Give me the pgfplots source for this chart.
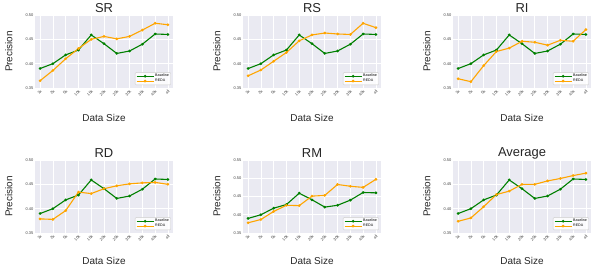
\documentclass[border=0pt]{standalone}
\usepackage{pgfplots}
\pgfplotsset{compat=1.18}
\usepackage{fontspec}
\setmainfont{Liberation Sans}
\definecolor{bgc}{HTML}{EAEAF2}
\definecolor{base}{HTML}{008000}
\definecolor{reda}{HTML}{FFA500}
\definecolor{tickc}{HTML}{404040}

\pgfplotsset{every axis title shift=0pt, panel/.style={
  scale only axis, width=138bp, height=73bp,
  axis background/.style={fill=bgc},
  axis line style={draw=none},
  grid=major, grid style={white, line width=0.7pt},
  major tick length=0pt,
  xmin=-0.4, xmax=10.4,
  xtick={0,...,10},
  xticklabels={1k,2k,5k,10k,15k,20k,25k,30k,35k,40k,all},
  x tick label style={rotate=45, anchor=north east, font=\fontsize{4}{4}\selectfont, text=tickc, inner sep=1pt},
  y tick label style={font=\fontsize{4}{4}\selectfont, text=tickc, inner sep=1.5pt},
  /pgf/number format/assume math mode=true,
  yticklabel style={/pgf/number format/fixed, /pgf/number format/precision=2, /pgf/number format/fixed zerofill},
  ytick={0.35,0.40,0.45,0.50},
  ymin=0.35, ymax=0.50,
  title style={font=\fontsize{13}{13}\selectfont, at={(axis description cs:0.5,1.09)}, anchor=center, yshift=0pt, text=black!85},
  xlabel={Data Size}, ylabel={Precision},
  every axis x label/.style={at={(axis description cs:0.5,-0.41)}, anchor=center, font=\fontsize{10}{10}\selectfont, text=black!85},
  every axis y label/.style={at={(axis description cs:-0.19,0.5)}, rotate=90, anchor=center, font=\fontsize{10}{10}\selectfont, text=black!85},
  legend style={at={(0.985,0.04)}, anchor=south east, font=\fontsize{3.6}{3.6}\selectfont, fill=white, fill opacity=0.85, text opacity=1, draw=black!20, rounded corners=1pt, inner sep=0.8pt, row sep=-1.2pt, nodes={inner sep=1pt}},
  legend cell align=left,
  legend image post style={line width=1.2pt, mark size=0.7pt},
  every axis plot/.append style={line width=1.1pt, mark=*, mark size=0.75pt},
}, lowrow/.style={x label style={at={(axis description cs:0.5,-0.38)}}}}

\pgfplotstableread{
x base sr rs ri rd rm avg
0 0.390 0.365 0.375 0.369 0.379 0.378 0.374
1 0.400 0.386 0.387 0.363 0.378 0.387 0.381
2 0.418 0.410 0.405 0.396 0.396 0.409 0.404
3 0.428 0.431 0.423 0.425 0.434 0.426 0.429
4 0.459 0.450 0.447 0.432 0.431 0.425 0.436
5 0.441 0.456 0.459 0.446 0.441 0.451 0.450
6 0.421 0.451 0.463 0.444 0.447 0.453 0.450
7 0.426 0.456 0.461 0.438 0.451 0.483 0.457
8 0.440 0.469 0.460 0.448 0.453 0.478 0.462
9 0.461 0.483 0.483 0.446 0.454 0.475 0.468
10 0.460 0.480 0.474 0.470 0.450 0.497 0.473
}\data

\begin{document}
\begin{tikzpicture}
\begin{axis}[panel, at={(35bp,178bp)}, anchor=south west, title={SR}]
\addplot[base] table[x=x,y=base]{\data};
\addplot[reda] table[x=x,y=sr]{\data};
\legend{Baseline,REDA}
\end{axis}
\begin{axis}[panel, at={(243bp,178bp)}, anchor=south west, title={RS}]
\addplot[base] table[x=x,y=base]{\data};
\addplot[reda] table[x=x,y=rs]{\data};
\legend{Baseline,REDA}
\end{axis}
\begin{axis}[panel, at={(453bp,178bp)}, anchor=south west, title={RI}]
\addplot[base] table[x=x,y=base]{\data};
\addplot[reda] table[x=x,y=ri]{\data};
\legend{Baseline,REDA}
\end{axis}
\begin{axis}[panel, lowrow, at={(35bp,33bp)}, anchor=south west, title={RD}]
\addplot[base] table[x=x,y=base]{\data};
\addplot[reda] table[x=x,y=rd]{\data};
\legend{Baseline,REDA}
\end{axis}
\begin{axis}[panel, lowrow, at={(243bp,33bp)}, anchor=south west, title={RM}, ymax=0.55, ytick={0.35,0.40,0.45,0.50,0.55}]
\addplot[base] table[x=x,y=base]{\data};
\addplot[reda] table[x=x,y=rm]{\data};
\legend{Baseline,REDA}
\end{axis}
\begin{axis}[panel, lowrow, at={(453bp,33bp)}, anchor=south west, title={Average}]
\addplot[base] table[x=x,y=base]{\data};
\addplot[reda] table[x=x,y=avg]{\data};
\legend{Baseline,REDA}
\end{axis}
\pgfresetboundingbox
\useasboundingbox (0bp,0bp) rectangle (592bp,266bp);
\end{tikzpicture}
\end{document}
